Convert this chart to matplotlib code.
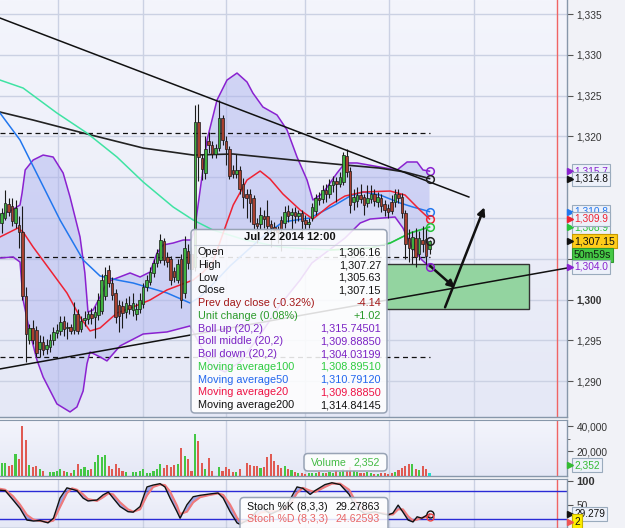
import numpy as np
import matplotlib
matplotlib.use("Agg")
import matplotlib.pyplot as plt
from matplotlib.patches import Rectangle, FancyBboxPatch
from matplotlib.colors import LinearSegmentedColormap
from matplotlib.transforms import blended_transform_factory, offset_copy

plt.rcParams['font.family'] = ['Liberation Sans', 'DejaVu Sans']

# ---------------- data ----------------
opens = [1309.4, 1310.0, 1311.7, 1311.5, 1309.4, 1309.2, 1308.3, 1300.5, 1295.1, 1296.5,
         1296.3, 1294.0, 1294.8, 1293.9, 1294.2, 1295.0, 1295.9, 1296.1, 1297.4, 1296.5,
         1296.7, 1296.3, 1298.3, 1296.4, 1297.5, 1297.6, 1298.2, 1297.9, 1298.1, 1298.6,
         1300.5, 1303.6, 1302.0, 1300.8, 1299.4, 1299.2, 1298.5, 1299.4, 1298.7, 1298.2,
         1298.8, 1299.5, 1301.6, 1302.2, 1303.3, 1304.5, 1304.9, 1307.2, 1305.2, 1305.0,
         1303.5, 1302.4, 1305.0, 1300.8, 1306.0, 1305.6, 1304.0, 1321.8, 1317.3, 1315.5,
         1319.5, 1319.0, 1317.9, 1318.6, 1322.2, 1319.5, 1318.4, 1315.9, 1315.4, 1315.9,
         1314.2, 1313.0, 1312.9, 1312.4, 1309.4, 1309.3, 1310.3, 1310.2, 1309.3, 1308.9,
         1308.6, 1309.7, 1309.4, 1310.9, 1310.4, 1310.8, 1310.2, 1310.6, 1309.8, 1309.3,
         1310.0, 1310.9, 1312.5, 1312.3, 1313.4, 1313.0, 1314.1, 1314.5, 1314.2, 1314.4,
         1317.6, 1315.8, 1312.0, 1312.1, 1312.8, 1312.6, 1311.8, 1312.3, 1312.9, 1312.0,
         1312.4, 1311.7, 1311.2, 1312.0, 1312.0, 1313.0, 1312.6, 1310.6, 1307.6, 1306.2,
         1307.6, 1305.6, 1307.3, 1307.4, 1306.16]
highs = [1311.2, 1313.4, 1312.4, 1312.5, 1312.2, 1310.3, 1311.5, 1301.5, 1297.0, 1297.5,
         1296.8, 1295.7, 1295.5, 1295.2, 1295.8, 1296.6, 1297.0, 1298.0, 1298.0, 1297.3,
         1297.0, 1299.7, 1298.8, 1298.0, 1298.6, 1298.6, 1299.0, 1299.2, 1300.8, 1303.2,
         1304.0, 1304.3, 1302.8, 1301.3, 1299.9, 1299.8, 1300.2, 1300.5, 1300.8, 1299.6,
         1300.8, 1302.0, 1303.0, 1304.0, 1305.0, 1306.2, 1308.1, 1307.6, 1305.8, 1305.4,
         1304.0, 1305.0, 1305.6, 1307.8, 1306.8, 1306.5, 1323.9, 1324.0, 1317.8, 1320.0,
         1320.5, 1319.5, 1319.1, 1324.5, 1322.6, 1320.0, 1318.8, 1316.5, 1317.8, 1316.4,
         1314.9, 1313.6, 1313.6, 1312.8, 1310.0, 1311.4, 1311.0, 1312.2, 1309.8, 1309.5,
         1309.0, 1310.2, 1311.5, 1311.6, 1311.2, 1311.3, 1311.0, 1311.0, 1310.4, 1310.0,
         1311.9, 1313.0, 1313.2, 1314.0, 1314.2, 1314.8, 1315.1, 1315.0, 1315.6, 1318.1,
         1318.4, 1316.3, 1313.5, 1313.8, 1314.2, 1313.0, 1314.0, 1314.0, 1313.5, 1313.2,
         1312.9, 1312.2, 1311.7, 1312.8, 1313.6, 1313.6, 1313.1, 1311.0, 1308.6, 1308.4,
         1308.8, 1308.4, 1309.0, 1309.0, 1307.27]
lows = [1308.2, 1309.7, 1310.2, 1309.0, 1308.8, 1306.3, 1300.0, 1292.4, 1294.6, 1294.6,
        1293.0, 1293.0, 1293.2, 1293.3, 1293.6, 1294.5, 1295.3, 1295.7, 1295.6, 1295.2,
        1295.8, 1295.8, 1295.8, 1296.0, 1296.8, 1297.0, 1297.0, 1295.3, 1297.5, 1298.2,
        1300.0, 1301.5, 1300.0, 1297.2, 1296.0, 1296.5, 1297.8, 1298.2, 1298.0, 1297.5,
        1298.4, 1299.0, 1301.0, 1301.8, 1302.8, 1304.0, 1304.5, 1304.3, 1304.0, 1301.8,
        1302.2, 1302.0, 1299.0, 1300.2, 1303.8, 1303.0, 1303.5, 1314.6, 1314.7, 1314.8,
        1318.0, 1317.3, 1317.3, 1318.2, 1319.0, 1316.5, 1314.8, 1314.9, 1314.9, 1313.0,
        1311.2, 1310.0, 1309.5, 1308.5, 1307.0, 1308.6, 1308.8, 1308.2, 1306.5, 1307.5,
        1307.0, 1306.0, 1308.8, 1309.5, 1308.5, 1309.4, 1309.6, 1307.4, 1308.7, 1308.8,
        1309.6, 1310.4, 1311.6, 1311.9, 1312.0, 1312.5, 1313.2, 1312.0, 1313.8, 1314.0,
        1315.0, 1310.6, 1311.0, 1311.4, 1311.8, 1310.4, 1311.3, 1311.8, 1311.5, 1311.4,
        1310.8, 1310.2, 1310.0, 1310.5, 1311.4, 1311.9, 1310.0, 1305.0, 1304.6, 1304.4,
        1304.0, 1304.8, 1305.8, 1304.3, 1305.63]
closes = [1310.6, 1311.8, 1310.8, 1309.6, 1311.2, 1308.3, 1300.5, 1295.8, 1296.5, 1295.1,
          1293.5, 1294.8, 1293.8, 1294.5, 1295.1, 1296.0, 1296.3, 1297.3, 1296.4, 1296.7,
          1296.2, 1298.3, 1296.2, 1297.4, 1297.8, 1298.2, 1297.8, 1298.5, 1300.0, 1302.4,
          1303.0, 1302.0, 1300.6, 1297.9, 1298.0, 1298.4, 1299.6, 1298.8, 1299.6, 1298.9,
          1300.0, 1301.6, 1302.4, 1303.4, 1304.5, 1305.7, 1307.3, 1304.8, 1304.6, 1302.4,
          1302.8, 1304.4, 1300.0, 1306.3, 1304.5, 1303.8, 1321.8, 1317.5, 1316.0, 1318.5,
          1318.9, 1317.8, 1318.6, 1322.3, 1319.6, 1318.4, 1315.2, 1315.4, 1315.9, 1313.6,
          1312.6, 1312.5, 1311.8, 1309.3, 1309.0, 1310.4, 1309.9, 1309.0, 1308.8, 1308.5,
          1308.3, 1308.7, 1310.8, 1310.3, 1310.8, 1310.2, 1310.6, 1309.6, 1309.3, 1309.5,
          1311.4, 1312.5, 1312.2, 1313.4, 1313.0, 1314.1, 1314.6, 1314.2, 1315.0, 1317.7,
          1315.6, 1311.6, 1312.6, 1312.8, 1312.3, 1311.6, 1312.5, 1313.0, 1312.1, 1312.6,
          1311.5, 1311.0, 1310.8, 1310.9, 1312.9, 1312.4, 1310.6, 1306.8, 1306.3, 1307.7,
          1305.2, 1307.5, 1306.8, 1305.4, 1307.15]
volumes = [10700, 10700, 8000, 8500, 17300, 14000, 40500, 29300, 8500, 7500,
           8000, 5900, 4000, 400, 3200, 3200, 4000, 5300, 4000, 3200,
           2100, 4800, 9300, 5300, 7200, 4500, 5300, 11200, 16500, 15500,
           16500, 8000, 5300, 9300, 6700, 4000, 3200, 400, 3200, 3200,
           4000, 5900, 2700, 2700, 4000, 5300, 9300, 6700, 8500, 7500,
           8500, 9300, 22100, 16000, 13300, 4000, 33900, 28000, 10700, 5300,
           14700, 4000, 400, 7200, 4000, 7500, 5900, 3200, 3200, 5300,
           400, 10700, 8500, 8000, 8000, 6700, 7500, 15500, 17300, 12000,
           8500, 6700, 8000, 5300, 4800, 3200, 2700, 2700, 2000, 2400,
           2700, 2200, 3000, 2500, 2800, 3200, 2600, 4500, 3000, 6000,
           5000, 7000, 4000, 3000, 2600, 2800, 3500, 2400, 2000, 1300,
           2100, 2700, 1900, 2700, 3200, 4800, 6700, 8000, 9300, 9300,
           5300, 4800, 8000, 5300, 2352]

ma200_idx = [-0.5, 9.1, 23.6, 41.0, 55.5, 67.0, 84.4, 99.5, 109.4, 116.9, 124.0]
ma200_val = [1322.99, 1322.01, 1320.42, 1318.58, 1317.72, 1317.85, 1317.11, 1316.50, 1316.13, 1315.64, 1314.84]

ma100_idx = [-0.5, 6.2, 16.0, 24.7, 33.4, 41.0, 49.7, 55.5, 61.2, 70.6, 80.7, 95.2, 106.8, 112.6, 118.4, 124.0]
ma100_val = [1326.91, 1325.93, 1322.87, 1320.42, 1317.48, 1314.42, 1311.35, 1309.76, 1308.54, 1307.31,
             1306.45, 1306.09, 1306.33, 1306.94, 1308.17, 1308.90]

ma50_idx = [-0.5, 5.3, 11.1, 16.9, 23.6, 28.5, 33.4, 38.1, 43.0, 47.9, 54.6, 57.5, 61.8, 66.2, 72.0,
            76.3, 81.5, 89.4, 96.6, 101.0, 104.7, 109.7, 115.5, 119.2, 124.0]
ma50_val = [1322.87, 1319.56, 1314.66, 1309.76, 1304.86, 1302.90, 1302.41, 1302.04, 1301.43, 1300.82,
            1299.59, 1300.33, 1302.16, 1304.13, 1306.33, 1307.92, 1309.52, 1310.01, 1311.60, 1312.70,
            1313.19, 1312.82, 1311.84, 1311.35, 1310.79]

ma20_idx = [-0.5, 4.7, 6.2, 9.1, 14.0, 18.9, 22.7, 25.6, 28.5, 33.4, 38.1, 43.0, 47.9, 51.7, 55.5,
            58.4, 61.2, 64.7, 67.1, 71.1, 74.9, 77.8, 81.5, 86.5, 90.2, 95.2, 99.5, 104.7, 112.6,
            116.9, 121.2, 124.0]
ma20_val = [1307.68, 1308.78, 1308.29, 1306.45, 1303.64, 1300.82, 1297.88, 1296.16, 1296.53, 1298.37,
            1299.10, 1299.96, 1301.19, 1301.80, 1302.41, 1303.39, 1304.61, 1308.78, 1311.60, 1314.66,
            1315.76, 1314.78, 1312.95, 1310.99, 1309.88, 1311.60, 1312.70, 1313.19, 1313.31, 1312.82,
            1310.99, 1309.89]

boll_up_idx = [-0.5, 3.0, 5.3, 5.9, 6.8, 9.1, 12.0, 14.9, 17.8, 19.8, 22.7, 24.1, 25.0, 26.5, 28.5,
               30.5, 33.4, 37.2, 40.1, 43.0, 45.0, 46.8, 49.7, 52.6, 54.9, 56.0, 59.5, 62.4, 65.3, 68.2,
               71.1, 72.8, 75.7, 79.8, 82.7, 85.6, 88.5, 90.2, 93.1, 97.2, 99.5, 103.0, 109.7, 114.6,
               117.5, 120.4, 122.1, 124.0]
boll_up_val = [1310.37, 1310.99, 1311.60, 1313.07, 1315.89, 1317.11, 1317.72, 1317.48, 1315.52, 1312.58,
               1307.68, 1303.27, 1298.49, 1298.73, 1300.33, 1302.16, 1302.65, 1303.27, 1302.78, 1303.39,
               1305.72, 1306.70, 1306.94, 1307.31, 1307.31, 1308.78, 1319.56, 1324.46, 1326.91, 1327.77,
               1326.67, 1325.32, 1323.61, 1322.63, 1320.79, 1317.48, 1314.66, 1312.21, 1313.07, 1315.52,
               1316.75, 1316.75, 1316.25, 1315.89, 1316.87, 1316.87, 1315.89, 1315.75]

boll_dn_idx = [-0.5, 3.3, 5.3, 6.2, 8.2, 10.2, 12.0, 16.0, 19.8, 21.8, 23.6, 24.7, 25.6, 28.5, 30.5,
               34.3, 41.0, 47.9, 54.6, 57.5, 60.4, 64.7, 69.1, 74.9, 80.7, 86.5, 89.9, 95.7, 99.5,
               103.9, 106.8, 114.0, 116.3, 118.9, 121.8, 124.0]
boll_dn_val = [1305.10, 1305.23, 1304.61, 1299.96, 1295.92, 1292.61, 1290.52, 1287.22, 1286.24, 1286.85,
               1288.81, 1292.12, 1293.59, 1292.98, 1292.49, 1294.33, 1295.79, 1296.04, 1296.78, 1294.45,
               1292.00, 1291.14, 1292.36, 1295.67, 1299.35, 1302.41, 1304.49, 1306.33, 1307.55, 1309.39,
               1309.88, 1310.13, 1308.78, 1306.45, 1304.86, 1304.03]

stoch_idx = [-0.5, 1, 3.3, 5.3, 7.3, 9.2, 11.1, 13.4, 15, 16.9,
             18.9, 20.4, 21.8, 23.6, 25, 27.6, 29.4, 30.9, 32.3, 34.3,
             36.6, 38.1, 40.1, 42.1, 43.9, 45.9, 47.3, 48.8, 50.8, 51.7,
             53.7, 55.5, 57.5, 60.4, 62.7, 64.2, 66.2, 68.2, 69, 72,
             75, 78, 81, 83.5, 85.6, 87.3, 89.4, 90.8, 93.7, 95.7,
             98.1, 100.7, 102.5, 105.3, 108.2, 110.5, 112, 113.4, 114.9, 116.3,
             117.8, 119.2, 120.4, 121.8, 123.3, 124]
stoch_k = [81, 80, 60, 42, 17, 15, 16, 11, 21, 64,
           86, 83, 80, 64, 58, 60, 71, 77, 64, 46,
           35, 34, 46, 88, 92, 95, 88, 64, 35, 21,
           50, 67, 70, 73, 75, 64, 35, 11, 8, 20,
           45, 30, 40, 60, 88, 85, 72, 80, 93, 97,
           93, 72, 45, 30, 35, 30, 28, 32, 49, 34,
           17, 13, 24, 21, 28, 29.28]
stoch_d = [84, 82, 68, 50, 28, 18, 15, 13, 16, 45,
           75, 85, 82, 72, 62, 58, 66, 74, 72, 55,
           40, 35, 40, 70, 88, 93, 92, 78, 48, 30,
           35, 55, 66, 71, 74, 71, 50, 22, 14, 14,
           33, 36, 36, 50, 75, 86, 80, 77, 88, 95,
           95, 82, 58, 36, 32, 32, 29, 29, 40, 40,
           25, 16, 18, 22, 24, 24.63]

trend_down_idx = [-0.5, 135.4]
trend_down_val = [1334.51, 1312.58]
trend_up_idx = [-0.5, 163.9]
trend_up_val = [1291.51, 1303.88]
dash_levels = [1320.42, 1305.17, 1292.98]
dash_end = 124.2
zone_idx = [111.5, 152.8]
zone_val = [1298.86, 1304.37]
arrow1 = [(124.2, 1304.12), (131.4, 1301.43)]
arrow2 = [(128.5, 1299.06), (139.9, 1311.32)]
grid_idx = [16.3, 41.0, 65.0, 88.0, 112.3, 136.9]
now_idx = 160.9

price_ticks = [1290, 1295, 1300, 1305, 1310, 1315, 1320, 1325, 1330, 1335]
price_tick_shown = [1290, 1295, 1300, 1320, 1325, 1330, 1335]

tt_title = 'Jul 22 2014 12:00'
tt_labels = ['Open', 'High', 'Low', 'Close', 'Prev day close (-0.32%)', 'Unit change (0.08%)',
             'Boll up (20,2)', 'Boll middle (20,2)', 'Boll down (20,2)', 'Moving average100',
             'Moving average50', 'Moving average20', 'Moving average200']
tt_values = ['1,306.16', '1,307.27', '1,305.63', '1,307.15', '-4.14', '+1.02', '1,315.74501',
             '1,309.88850', '1,304.03199', '1,308.89510', '1,310.79120', '1,309.88850', '1,314.84145']
tt_colors = ['#111111'] * 4 + ['#a31818', '#2a9a2a'] + ['#7b22c4'] * 3 + \
            ['#2ecc40', '#2266ee', '#ee1144', '#111111']

# ---------------- figure ----------------
W, H = 625, 528
fig = plt.figure(figsize=(W / 100, H / 100), dpi=100)
fig.patch.set_facecolor('#f1f2f7')


def panel(y0, y1):
    return fig.add_axes([0, 1 - y1 / H, 567 / W, (y1 - y0) / H])


ax = panel(0, 417)
axv = panel(420, 476)
axs = panel(479, 528)

bgmap = LinearSegmentedColormap.from_list('bg', ['#e5e8f6', '#f4f5fc'])
grad = np.linspace(0, 1, 256).reshape(-1, 1)
XL = (-0.5, 163.85)
for a in (ax, axv, axs):
    a.imshow(grad, extent=[0, 1, 0, 1], transform=a.transAxes, aspect='auto',
             cmap=bgmap, origin='lower', zorder=0)
    a.set_xlim(*XL)
    a.set_xticks([])
    for g in grid_idx:
        a.axvline(g, color='#cbd1e3', lw=1, zorder=0.6)
    a.axvline(now_idx, color='#f06464', lw=1, zorder=0.7)
    for s in ('left', 'top'):
        a.spines[s].set_visible(False)
    for s in ('right', 'bottom'):
        a.spines[s].set_color('#8797aa')
        a.spines[s].set_linewidth(1)
    a.yaxis.tick_right()
    a.tick_params(axis='y', length=4, width=0.8, color='#555555', labelsize=7.3,
                  labelcolor='#333333', pad=3)
axv.spines['top'].set_visible(True)
axv.spines['top'].set_color('#8797aa')
axs.spines['top'].set_visible(True)
axs.spines['top'].set_color('#8797aa')

# ---- main panel ----
ax.set_ylim(1285.62, 1336.72)
ax.set_yticks(price_ticks, labels=[f'{t:,}' if t in price_tick_shown else '' for t in price_ticks])
for lab in ax.get_yticklabels():
    if lab.get_text() == '1,300':
        lab.set_fontweight('bold')
for t in price_ticks:
    ax.axhline(t, color='#cbd1e3', lw=1, zorder=0.6)

ax.fill(np.r_[boll_up_idx, boll_dn_idx[::-1]], np.r_[boll_up_val, boll_dn_val[::-1]],
        color='#a7adee', alpha=0.44, lw=0, zorder=1)

ax.add_patch(Rectangle((zone_idx[0], zone_val[0]), zone_idx[1] - zone_idx[0], zone_val[1] - zone_val[0],
                       fc='#93d4a0', ec='#333333', lw=1, zorder=1.8))

for lv in dash_levels:
    ax.plot([XL[0], dash_end], [lv, lv], color='#111111', lw=0.9, ls=(0, (4, 3)), zorder=2.2)

ax.plot(boll_up_idx, boll_up_val, color='#8a22d0', lw=1.1, zorder=2.3)
ax.plot(boll_dn_idx, boll_dn_val, color='#8a22d0', lw=1.1, zorder=2.3)
ax.plot(ma200_idx, ma200_val, color='#222222', lw=1.2, zorder=2.4)
m100 = np.array(ma100_idx)
ax.plot(ma100_idx, ma100_val, color='#3fe3a3', lw=1.1, zorder=2.4)
sel = m100 >= 95
ax.plot(m100[sel], np.array(ma100_val)[sel], color='#27c23a', lw=1.1, zorder=2.45)
ax.plot(ma50_idx, ma50_val, color='#2277ee', lw=1.1, zorder=2.4)
ax.plot(ma20_idx, ma20_val, color='#ee2233', lw=1.1, zorder=2.4)

idx = np.arange(len(closes))
o = np.array(opens); c = np.array(closes); hi = np.array(highs); lo = np.array(lows)
up = c >= o
ax.vlines(idx, lo, hi, color='#1a1a1a', lw=0.8, zorder=3)
ax.bar(idx, np.maximum(np.abs(c - o), 0.08), bottom=np.minimum(o, c), width=0.74,
       color=np.where(up, '#3fb03f', '#a8402f'), edgecolor='#1a1a1a', linewidth=0.5, zorder=3.1)

ax.plot(trend_down_idx, trend_down_val, color='#111111', lw=1.1, zorder=4)
ax.plot(trend_up_idx, trend_up_val, color='#111111', lw=1.1, zorder=4)

for (s, e) in (arrow1, arrow2):
    ax.annotate('', xy=e, xytext=s,
                arrowprops=dict(arrowstyle='-|>', color='#111111', lw=1.8, mutation_scale=11,
                                shrinkA=0, shrinkB=0), zorder=6)

last = len(closes) - 1
for val, col in ((boll_up_val[-1], '#8a22d0'), (ma200_val[-1], '#222222'), (ma50_val[-1], '#2277ee'),
                 (ma20_val[-1], '#ee2233'), (ma100_val[-1], '#27c23a'), (closes[-1], '#222222'),
                 (boll_dn_val[-1], '#8a22d0')):
    ax.plot([last], [val], 'o', mfc='none', mec=col, ms=5.5, mew=1.1, zorder=7)


# right-side value tags
def tag(a, yval, text, tc, fc='#edf1fa', ec='#9aabbd', tri=None, dy=0, fs=7.3, z=30, weight='normal'):
    tr = blended_transform_factory(a.transAxes, a.transData)
    trt = offset_copy(tr, fig=fig, x=0, y=dy, units='dots') if dy else tr
    a.text(574 / 567, yval, text, transform=trt, color=tc, fontsize=fs, va='center', ha='left',
           fontweight=weight,
           bbox=dict(boxstyle='square,pad=0.2', fc=fc, ec=ec, lw=0.8), clip_on=False, zorder=z)
    if tri:
        a.plot([569.5 / 567], [yval], marker='>', ms=4.5, color=tri, transform=trt,
               clip_on=False, zorder=z + 0.5)


tag(ax, boll_up_val[-1], '1,315.7', '#8a22d0', tri='#8a22d0', z=30)
tag(ax, ma200_val[-1], '1,314.8', '#111111', tri='#111111', z=31)
tag(ax, ma50_val[-1], '1,310.8', '#2277ee', tri='#2277ee', z=32)
tag(ax, ma100_val[-1], '1,308.9', '#27c23a', tri='#27c23a', z=33)
tag(ax, ma20_val[-1], '1,309.9', '#ee2233', tri='#ee2233', z=34)
tag(ax, closes[-1], '1,307.15', '#111111', fc='#ffcc1a', ec='#c79a00', tri='#111111', z=35, fs=7.6)
tag(ax, closes[-1], '50m59s', '#102010', fc='#45c945', ec='#2f9a2f', dy=-14, z=36, fs=7.6)
tag(ax, boll_dn_val[-1], '1,304.0', '#8a22d0', tri='#8a22d0', z=37)

# ---- volume panel ----
axv.set_ylim(0, 45000)
vcol = np.where(up, '#44c744', '#e05a52').astype(object)
vcol[-1] = '#22ddcc'
axv.bar(idx, volumes, width=0.62, color=list(vcol), lw=0, zorder=3)
axv.set_yticks([20000, 40000], labels=['20,000', '40,000'])
axv.set_yticks([10000, 30000], minor=True)
axv.tick_params(axis='y', which='minor', length=2, color='#555555')
tag(axv, volumes[-1], '2,352', '#33bb33', tri='#33bb33', dy=8, z=30)

# ---- stochastic panel ----
axs.set_ylim(0, 105)
axs.axhline(80, color='#2a2ad6', lw=1, zorder=1)
axs.axhline(20, color='#2a2ad6', lw=1, zorder=1)
axs.fill_between(stoch_idx, stoch_k, stoch_d, color='#5a68d8', alpha=0.55, lw=0, zorder=2)
axs.plot(stoch_idx, stoch_d, color='#f07a7a', lw=1.5, zorder=2.5)
axs.plot(stoch_idx, stoch_k, color='#111111', lw=1.0, zorder=3)
axs.plot([last], [stoch_k[-1]], 'o', mfc='none', mec='#111111', ms=5, mew=1, zorder=4)
axs.plot([last], [stoch_d[-1]], 'o', mfc='none', mec='#ee4444', ms=5, mew=1, zorder=4)
axs.set_yticks([50, 100], labels=['50', '100'])
for lab in axs.get_yticklabels():
    if lab.get_text() == '100':
        lab.set_fontweight('bold')
        lab.set_fontsize(8)
tag(axs, stoch_k[-1], '29.279', '#111111', tri='#111111', z=30)
tag(axs, stoch_d[-1], '2', '#111111', fc='#ffee00', ec='#c8b400', tri='#ee5555', dy=-5, z=31)

# ---------------- overlay (tooltips) ----------------
ov = fig.add_axes([0, 0, 1, 1], zorder=20)
ov.set_xlim(0, W)
ov.set_ylim(H, 0)
ov.axis('off')
ov.patch.set_alpha(0)


def box(x0, y0, x1, y1, alpha=0.86):
    ov.add_patch(FancyBboxPatch((x0, y0), x1 - x0, y1 - y0, boxstyle='round,pad=0,rounding_size=4',
                                fc=(1, 1, 1, alpha), ec='#98a3b5', lw=1.1, clip_on=False))


box(191, 229.5, 387, 413)
ov.text(290, 237, tt_title, ha='center', va='center', fontsize=8, fontweight='bold', color='#111111')
ov.plot([194, 384], [244.5, 244.5], color='#c8cdd8', lw=0.8)
for k, (lab, val, col) in enumerate(zip(tt_labels, tt_values, tt_colors)):
    yy = 252.3 + k * 12.73
    ov.text(198, yy, lab, ha='left', va='center', fontsize=7.8, color=col)
    ov.text(381, yy, val, ha='right', va='center', fontsize=7.8, color=col)

box(304, 453.5, 387, 471)
ov.text(311, 462.5, 'Volume', ha='left', va='center', fontsize=7.7, color='#44bb44')
ov.text(380, 462.5, '2,352', ha='right', va='center', fontsize=7.7, color='#44bb44')

box(240, 497.5, 388, 540)
ov.text(247, 506.5, 'Stoch %K (8,3,3)', ha='left', va='center', fontsize=7.7, color='#111111')
ov.text(380, 506.5, '29.27863', ha='right', va='center', fontsize=7.7, color='#111111')
ov.text(247, 519.5, 'Stoch %D (8,3,3)', ha='left', va='center', fontsize=7.7, color='#e86666')
ov.text(380, 519.5, '24.62593', ha='right', va='center', fontsize=7.7, color='#e86666')

fig.savefig('out.png', dpi=100, facecolor=fig.get_facecolor())
